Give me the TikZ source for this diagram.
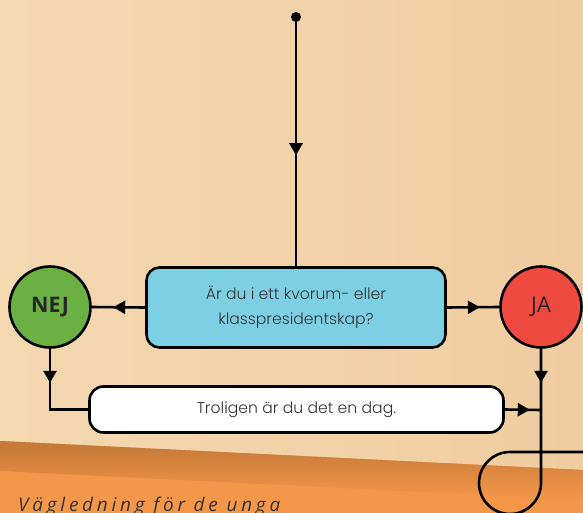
\documentclass[tikz,border=0pt]{standalone}
\usepackage{fontspec}
\setmainfont{Open Sans}
\newfontfamily\boxfont{Poppins Light}
\newfontfamily\footfont{Open Sans}[LetterSpace=20]
\usetikzlibrary{arrows.meta,decorations.markings}
\definecolor{paperL}{HTML}{F4D8B0}
\definecolor{paperR}{HTML}{F0CDA0}
\definecolor{bandTop}{HTML}{C27838}
\definecolor{bandBot}{HTML}{F59749}
\definecolor{qblue}{HTML}{7DD0E3}
\definecolor{nejgreen}{HTML}{6AB042}
\definecolor{jared}{HTML}{EE4A40}
\definecolor{txt}{HTML}{333333}
\tikzset{
  conn/.style={line width=2.6bp, draw=black},
  midarrow/.style={postaction={decorate}, decoration={markings,
     mark=at position #1 with {\arrow{Triangle[length=12bp,width=13bp]}}}},
  qbox/.style={draw, line width=2.6bp, fill=qblue, rounded corners=13bp,
     minimum width=299bp, minimum height=80bp, align=center, inner sep=0pt,
     font=\boxfont\fontsize{15.7}{25}\selectfont, text=txt},
  abox/.style={draw, line width=2.6bp, fill=white, rounded corners=14bp,
     minimum width=414bp, minimum height=46bp, align=center, inner sep=0pt,
     font=\boxfont\fontsize{15.7}{24}\selectfont, text=txt},
  answer/.style={circle, draw, line width=2.6bp, minimum size=81bp, inner sep=0pt,
     font=\fontsize{22}{24}\selectfont, text=black!85},
  startdot/.style={circle, fill=black, inner sep=0pt, minimum size=10bp},
}
\begin{document}
\begin{tikzpicture}[x=1bp, y=-1bp]
\useasboundingbox (0,0) rectangle (583,513);
\clip (0,0) rectangle (583,513);
% background paper
\shade[left color=paperL, right color=paperR] (0,0) rectangle (583,513);
% orange band
\fill[bandBot] (0,441) -- (583,470) -- (583,513) -- (0,513) -- cycle;
\shade[top color=bandTop, bottom color=bandBot] (0,441) -- (583,470) -- (583,500) -- (0,471) -- cycle;
\node[anchor=base west, font=\footfont\itshape\fontsize{19}{20}\selectfont, text=black!80, inner sep=0pt] (foot) at (18,511) {Vägledning för de unga};

% nodes
\node[startdot] (start) at (296,17) {};
\node[qbox] (q) at (296,307.5) {Är du i ett kvorum- eller\\klasspresidentskap?};
\node[answer, fill=nejgreen, font=\bfseries\fontsize{21.5}{24}\selectfont] (nej) at (50,307) {NEJ};
\node[answer, fill=jared] (ja) at (541,307) {JA};
\node[abox] (a) at (296.5,409.5) {Troligen är du det en dag.};
\coordinate (join) at (541,410);
\coordinate (exit) at (583,452);

% connectors
\draw[conn, midarrow=133bp] (start) -- (q.north);
\draw[conn, midarrow=32bp] (q.west) -- (nej.east);
\draw[conn, midarrow=33bp] (q.east) -- (ja.west);
\draw[conn, midarrow=34bp] (nej.south) |- (a.west);
\draw[conn, midarrow=25bp] (a.east) -- (join);
\draw[conn, midarrow=34bp] (ja.south) -- (541,483) arc[start angle=0, end angle=270, radius=31] -- (exit);
\end{tikzpicture}
\end{document}
